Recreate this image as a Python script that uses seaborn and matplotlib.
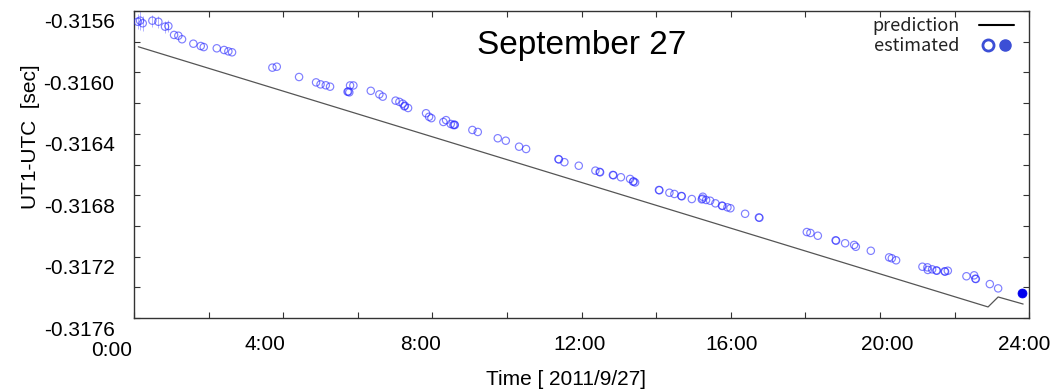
import matplotlib
matplotlib.use("Agg")
import matplotlib.pyplot as plt
import seaborn as sns
import pandas as pd
from matplotlib.lines import Line2D
from matplotlib.legend_handler import HandlerTuple
from matplotlib.transforms import ScaledTranslation
from matplotlib.ticker import MultipleLocator, FixedLocator

# ---------------- data ----------------
est_hours = [0.099, 0.161, 0.233, 0.491, 0.652, 0.831, 0.920, 1.073, 1.188, 1.287,
             1.590, 1.789, 1.869, 2.218, 2.414, 2.529, 2.628, 3.709, 3.827, 4.425,
             4.881, 5.001, 5.141, 5.256, 5.725, 5.745, 5.772, 5.792, 5.881, 6.348,
             6.578, 6.669, 7.013, 7.115, 7.206, 7.249, 7.262, 7.348, 7.830, 7.911,
             7.973, 8.294, 8.367, 8.493, 8.563, 8.600, 8.590, 9.072, 9.217, 9.753,
             9.968, 10.325, 10.512, 11.392, 11.380, 11.539, 11.925, 12.371, 12.497, 12.485,
             12.853, 12.840, 13.055, 13.301, 13.382, 13.395, 13.435, 14.087, 14.075, 14.355,
             14.489, 14.687, 14.675, 14.956, 15.251, 15.224, 15.240, 15.339, 15.447, 15.589,
             15.777, 15.765, 15.911, 15.991, 16.385, 16.769, 16.755, 18.040, 18.136, 18.335,
             18.825, 18.812, 19.067, 19.308, 19.354, 19.756, 20.247, 20.319, 20.434, 21.140,
             21.274, 21.284, 21.400, 21.526, 21.514, 21.748, 21.735, 21.821, 22.320, 22.526,
             22.572, 22.560, 22.947, 23.170]
est_values = [-0.315670, -0.315663, -0.315680, -0.315663, -0.315670, -0.315702, -0.315698, -0.315756, -0.315761, -0.315784,
              -0.315813, -0.315828, -0.315835, -0.315843, -0.315854, -0.315863, -0.315869, -0.315969, -0.315963, -0.316030,
              -0.316065, -0.316078, -0.316084, -0.316093, -0.316126, -0.316124, -0.316130, -0.316085, -0.316085, -0.316120,
              -0.316143, -0.316158, -0.316184, -0.316192, -0.316204, -0.316221, -0.316217, -0.316232, -0.316266, -0.316289,
              -0.316298, -0.316323, -0.316311, -0.316336, -0.316343, -0.316343, -0.316340, -0.316375, -0.316388, -0.316429,
              -0.316445, -0.316484, -0.316499, -0.316567, -0.316565, -0.316585, -0.316608, -0.316640, -0.316651, -0.316648,
              -0.316670, -0.316668, -0.316683, -0.316694, -0.316712, -0.316710, -0.316717, -0.316768, -0.316766, -0.316784,
              -0.316792, -0.316807, -0.316805, -0.316825, -0.316810, -0.316827, -0.316822, -0.316831, -0.316836, -0.316853,
              -0.316870, -0.316868, -0.316879, -0.316885, -0.316921, -0.316947, -0.316945, -0.317040, -0.317046, -0.317064,
              -0.317096, -0.317094, -0.317113, -0.317124, -0.317136, -0.317162, -0.317205, -0.317211, -0.317224, -0.317266,
              -0.317270, -0.317287, -0.317283, -0.317292, -0.317290, -0.317298, -0.317296, -0.317292, -0.317328, -0.317322,
              -0.317346, -0.317344, -0.317379, -0.317407]

err_hours = [0.099, 0.161, 0.233, 0.491, 0.652, 0.831, 0.920]
err_values = [-0.315670, -0.315663, -0.315680, -0.315663, -0.315670, -0.315702, -0.315698]
err_sizes = [0.00005, 0.00006, 0.00005, 0.00004, 0.00004, 0.00004, 0.00004]

latest_hours = [23.806]
latest_values = [-0.317435]

pred_hours = [0.115, 22.90, 23.17, 23.84]
pred_values = [-0.315833, -0.317528, -0.317463, -0.317509]

x_ticks = [0, 4, 8, 12, 16, 20, 24]
x_labels = ["0:00", "4:00", "8:00", "12:00", "16:00", "20:00", "24:00"]
y_ticks = [-0.3176, -0.3172, -0.3168, -0.3164, -0.3160, -0.3156]
y_labels = ["-0.3176", "-0.3172", "-0.3168", "-0.3164", "-0.3160", "-0.3156"]

title_text = "September 27"
x_title = "Time [ 2011/9/27]"
y_title = "UT1-UTC  [sec]"

# ---------------- style ----------------
sns.set_style("white")
plt.rcParams["font.family"] = ["Liberation Sans", "DejaVu Sans"]
plt.rcParams["text.color"] = "black"
plt.rcParams["axes.labelcolor"] = "black"
plt.rcParams["xtick.labelcolor"] = "black"
plt.rcParams["ytick.labelcolor"] = "black"

fig = plt.figure(figsize=(10.63, 3.90), dpi=100)
ax = fig.add_axes([0.1261, 0.1846, 0.8420, 0.7872])

est_df = pd.DataFrame({"hour": est_hours, "value": est_values})
pred_df = pd.DataFrame({"hour": pred_hours, "value": pred_values})
last_df = pd.DataFrame({"hour": latest_hours, "value": latest_values})

ax.errorbar(err_hours, err_values, yerr=err_sizes, fmt="none",
            ecolor="#b4b4ff", elinewidth=0.7, capsize=0, zorder=2)

sns.lineplot(data=pred_df, x="hour", y="value", sort=False, ax=ax,
             color="#555555", linewidth=0.9, zorder=3)
sns.scatterplot(data=est_df, x="hour", y="value", ax=ax, marker="o",
                s=28, facecolors="none", edgecolor="#2a2aff", linewidth=0.85,
                alpha=0.6, zorder=4)
sns.scatterplot(data=last_df, x="hour", y="value", ax=ax, marker="o",
                s=42, color="#0000ee", edgecolor="#0000ee", linewidth=0.5,
                zorder=5)

ax.set_xlim(0, 24)
ax.set_ylim(-0.3176, -0.3156)

ax.xaxis.set_major_locator(FixedLocator(x_ticks))
ax.set_xticks(x_ticks)
ax.set_xticklabels(x_labels)
ax.xaxis.set_minor_locator(MultipleLocator(2))
ax.set_yticks(y_ticks)
ax.set_yticklabels(y_labels)
ax.yaxis.set_minor_locator(MultipleLocator(0.0002))

ax.tick_params(axis="both", which="both", direction="in", length=4, width=0.8,
               color="#333333", top=True, right=True, bottom=True, left=True)
ax.tick_params(axis="x", which="major", labelsize=15, pad=12, labelcolor="black")
ax.tick_params(axis="y", which="major", labelsize=15, pad=14, labelcolor="black")

for sp in ax.spines.values():
    sp.set_color("#333333")
    sp.set_linewidth(1.0)

ax.set_xlabel(x_title, fontsize=15, color="black")
ax.set_ylabel(y_title, fontsize=15, color="black")
ax.xaxis.set_label_coords(0.483, -0.17)
ax.yaxis.set_label_coords(-0.105, 0.59)

ax.text(0.5006, 0.886, title_text, transform=ax.transAxes, ha="center", va="center",
        fontsize=24, color="black")

# legend
h_line = Line2D([], [], color="black", linewidth=1.5)
h_open = Line2D([], [], marker="o", linestyle="none", markersize=8,
                markerfacecolor="white", markeredgecolor="#3c4fd6", markeredgewidth=2)
h_fill = Line2D([], [], marker="o", linestyle="none", markersize=8,
                markerfacecolor="#3c4fd6", markeredgecolor="#3c4fd6")
leg = ax.legend([h_line, (h_open, h_fill)], ["prediction", "estimated"],
                handler_map={tuple: HandlerTuple(ndivide=None, pad=0.0)},
                loc="upper right", bbox_to_anchor=(0.997, 1.02), frameon=False,
                markerfirst=False, handlelength=1.9, handletextpad=1.1,
                labelspacing=0.1, borderpad=0.2,
                prop={"family": ["Noto Sans CJK JP", "DejaVu Sans"], "size": 13})
for t in leg.get_texts():
    t.set_color("#222222")

# label offsets mimicking the reference
x_shift = [-22, -18, -12, -2, 1, 7, -5]
x_drop = [6, 0, 0, 0, 0, 0, 0]
for lab, dx, dy in zip(ax.get_xticklabels(), x_shift, x_drop):
    lab.set_transform(lab.get_transform() + ScaledTranslation(dx / 100, -dy / 100, fig.dpi_scale_trans))
for lab in ax.get_yticklabels():
    lab.set_transform(lab.get_transform() + ScaledTranslation(0, -10 / 100, fig.dpi_scale_trans))

ax.set_facecolor("white")
fig.savefig("out.png", dpi=100, facecolor="white")
